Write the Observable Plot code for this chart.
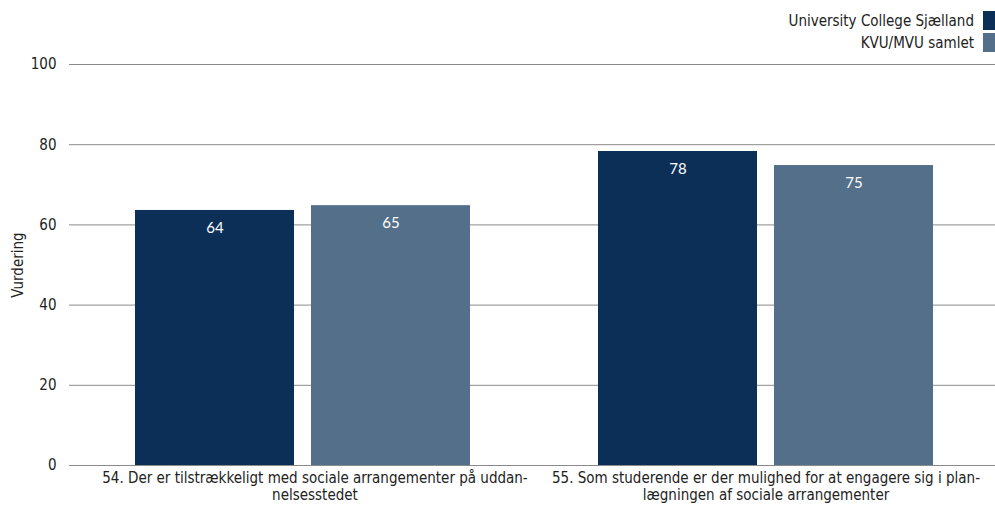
<!DOCTYPE html>
<html><head><meta charset="utf-8">
<script src="https://cdn.jsdelivr.net/npm/d3@7"></script>
<script src="https://cdn.jsdelivr.net/npm/@observablehq/plot@0.6"></script>
<style>
body{margin:0;background:#fff}
#wrap{position:relative;width:995px;height:510px;font-family:"DejaVu Sans Condensed","DejaVu Sans",sans-serif}
.legend{position:absolute;right:0;top:11px;font-size:15px;color:#222}
.legend .row{display:flex;align-items:center;justify-content:flex-end;height:19px;margin-bottom:3px}
.legend .sw{width:12px;height:19px;margin-left:9px}
</style>
</head><body><div id="wrap"></div>
<script>
const questions = ["54", "55"];
const questionLabels = [
  "54. Der er tilstrækkeligt med sociale arrangementer på uddan-\nnelsesstedet",
  "55. Som studerende er der mulighed for at engagere sig i plan-\nlægningen af sociale arrangementer"
];
const labelShift = [14, 2];
const seriesNames = ["University College Sjælland", "KVU/MVU samlet"];
const seriesColors = ["#0c2f57", "#546f8a"];
const ucsValues = [63.6, 78.3];
const kvuValues = [64.8, 74.8];
const yTicks = [0, 20, 40, 60, 80, 100];

const data = [];
questions.forEach((q, i) => {
  data.push({q, s: seriesNames[0], v: ucsValues[i]});
  data.push({q, s: seriesNames[1], v: kvuValues[i]});
});

const labelMarks = questions.map((q, i) =>
  Plot.text([q], {fx: d => d, text: d => questionLabels[questions.indexOf(d)], frameAnchor: "bottom", lineAnchor: "top", dy: 6, dx: labelShift[i], lineHeight: 1.1, fontSize: 15, fill: "#222"})
);

const plot = Plot.plot({
  width: 995, height: 510,
  marginTop: 64, marginBottom: 45, marginLeft: 68, marginRight: 0,
  style: {fontFamily: '"DejaVu Sans Condensed","DejaVu Sans",sans-serif', fontSize: "15px", color: "#222"},
  fx: {domain: questions, padding: 0, axis: null},
  x: {domain: seriesNames, paddingInner: 0.096, paddingOuter: 0.357, axis: null},
  y: {domain: [0, 100]},
  color: {domain: seriesNames, range: seriesColors},
  marks: [
    Plot.ruleY(yTicks, {stroke: "#8a8a8a", strokeWidth: 1}),
    Plot.barY(data, {fx: "q", x: "s", y: "v", fill: "s", dx: 2}),
    Plot.text(data, {fx: "q", x: "s", y: "v", text: d => d3.format(".0f")(d.v), dy: 18, dx: 2, fill: "white", fontFamily: "Lato", fontSize: 15}),
    Plot.axisY({ticks: yTicks, tickSize: 0, tickPadding: 13, fontSize: 15, label: "Vurdering", labelAnchor: "center", labelArrow: "none", labelOffset: 57}),
    ...labelMarks
  ]
});
const wrap = document.getElementById("wrap");
wrap.appendChild(plot);
const leg = document.createElement("div");
leg.className = "legend";
seriesNames.forEach((n, i) => {
  const r = document.createElement("div"); r.className = "row";
  const t = document.createElement("span"); t.textContent = n;
  const sw = document.createElement("span"); sw.className = "sw"; sw.style.background = seriesColors[i];
  r.appendChild(t); r.appendChild(sw); leg.appendChild(r);
});
wrap.appendChild(leg);
</script>
</body></html>
